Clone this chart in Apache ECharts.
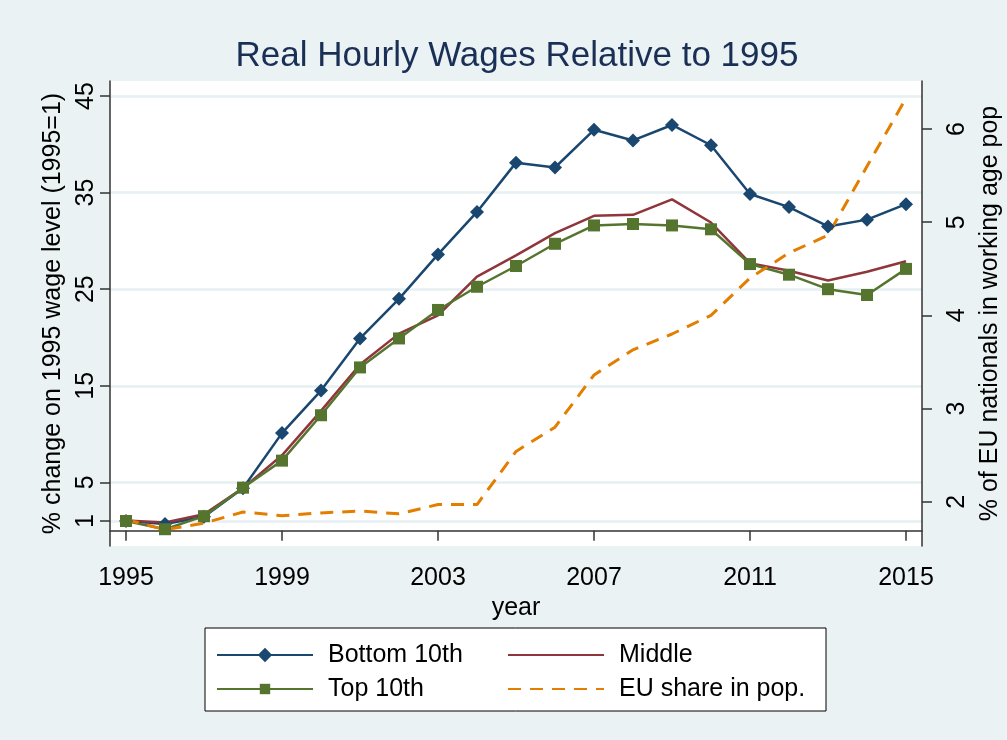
<!DOCTYPE html>
<html>
<head>
<meta charset="utf-8">
<script src="https://cdn.jsdelivr.net/npm/echarts@6/dist/echarts.min.js"></script>
<style>
  html, body { margin: 0; padding: 0; background: #eaf2f3; }
  #main { width: 1007px; height: 740px; }
</style>
</head>
<body>
<div id="main"></div>
<script>
var years = [1995, 1996, 1997, 1998, 1999, 2000, 2001, 2002, 2003, 2004, 2005,
  2006, 2007, 2008, 2009, 2010, 2011, 2012, 2013, 2014, 2015];
var bottom10 = [1.0, 0.7, 1.45, 4.4, 10.1, 14.5, 19.9, 24.0, 28.6, 33.0, 38.1,
  37.6, 41.5, 40.4, 42.0, 39.9, 34.85, 33.5, 31.5, 32.2, 33.8];
var middle = [1.05, 0.85, 1.7, 4.4, 7.8, 12.4, 17.2, 20.4, 22.3, 26.3, 28.5,
  30.8, 32.6, 32.7, 34.3, 31.9, 27.7, 26.9, 25.9, 26.8, 27.9];
var top10 = [1.0, 0.15, 1.5, 4.45, 7.25, 11.95, 16.9, 19.9, 22.85, 25.25, 27.4,
  29.7, 31.6, 31.75, 31.6, 31.2, 27.6, 26.5, 25.0, 24.4, 27.1];
var euShare = [1.81, 1.70, 1.77, 1.89, 1.85, 1.88, 1.90, 1.87, 1.97, 1.97, 2.54,
  2.80, 3.36, 3.63, 3.80, 4.00, 4.40, 4.67, 4.86, 5.60, 6.33];
var xTicks = [1995, 1999, 2003, 2007, 2011, 2015];
var leftTicks = [1, 5, 15, 25, 35, 45];
var rightTicks = [2, 3, 4, 5, 6];

(function () {
  var font = "Liberation Sans, Arial, sans-serif";
  var pairs = function (vals) {
    return years.map(function (y, i) { return [y, vals[i]]; });
  };
  var axisText = { color: "#000", fontSize: 25, fontFamily: font };
  // one legend per entry so each marker can get its own size
  var legendItem = function (name, left, rowCenter, h, hideSymbol) {
    return {
      orient: "vertical",
      left: left,
      top: rowCenter - 12.5,
      padding: 0,
      itemWidth: 96,
      itemHeight: h,
      data: [hideSymbol ? { name: name, itemStyle: { opacity: 0 } } : name],
      textStyle: { color: "#000", fontSize: 25, lineHeight: 25, fontFamily: font, padding: [0, 0, 0, 10] },
    };
  };
  var option = {
    backgroundColor: "#eaf2f3",
    animation: false,
    title: {
      text: "Real Hourly Wages Relative to 1995",
      left: 517,
      top: 39,
      textAlign: "center",
      padding: 0,
      textStyle: { color: "#1a2f55", fontSize: 35, fontWeight: "normal", fontFamily: font },
    },
    grid: {
      left: 110,
      right: 85,
      top: 81,
      bottom: 194,
      containLabel: false,
      outerBoundsMode: "none",
      show: true,
      backgroundColor: "#fff",
      borderWidth: 0,
    },
    xAxis: {
      type: "value",
      min: 1994.59,
      max: 2015.41,
      name: "year",
      nameLocation: "middle",
      nameGap: 46,
      nameTextStyle: axisText,
      axisLine: { lineStyle: { color: "#333", width: 1.5 } },
      axisTick: { customValues: xTicks, length: 10, lineStyle: { color: "#333", width: 1.5 } },
      axisLabel: {
        customValues: xTicks,
        margin: 20,
        color: "#000",
        fontSize: 25,
        fontFamily: font,
        formatter: function (v) { return String(v); },
      },
      splitLine: { show: false },
    },
    yAxis: [
      {
        type: "value",
        position: "left",
        min: -1.588,
        max: 46.553,
        name: "% change on 1995 wage level (1995=1)",
        nameLocation: "middle",
        nameRotate: 90,
        nameGap: 39,
        nameTextStyle: axisText,
        axisLine: { show: true, lineStyle: { color: "#333", width: 1.5 } },
        axisTick: { show: true, customValues: leftTicks, length: 10, lineStyle: { color: "#333", width: 1.5 } },
        axisLabel: { customValues: leftTicks, rotate: 90, margin: 11, color: "#000", fontSize: 25, fontFamily: font },
        splitLine: { show: true, lineStyle: { color: "#e6eff1", width: 2.5 } },
      },
      {
        type: "value",
        position: "right",
        min: 1.525,
        max: 6.515,
        name: "% of EU nationals in working age pop",
        nameLocation: "middle",
        nameRotate: 90,
        nameGap: 47,
        nameTextStyle: axisText,
        axisLine: { show: true, lineStyle: { color: "#333", width: 1.5 } },
        axisTick: { show: true, customValues: rightTicks, length: 10, lineStyle: { color: "#333", width: 1.5 } },
        axisLabel: { customValues: rightTicks, rotate: 90, margin: 23, color: "#000", fontSize: 25, fontFamily: font },
        splitLine: { show: false },
      },
    ],
    graphic: [
      {
        type: "rect",
        shape: { x: 205, y: 628, width: 621, height: 83 },
        style: { fill: "#fff", stroke: "#000", lineWidth: 1 },
        z: 0,
      },
    ],
    legend: [
      legendItem("Bottom 10th", 216, 655, 18, false),
      legendItem("Top 10th", 216, 689, 13, false),
      legendItem("Middle", 507, 655, 16, true),
      legendItem("EU share in pop.", 507, 689, 16, true),
    ],
    series: [
      {
        name: "Bottom 10th",
        type: "line",
        yAxisIndex: 0,
        data: pairs(bottom10),
        symbol: "diamond",
        symbolSize: 14,
        color: "#1a476f",
        lineStyle: { color: "#1a476f", width: 2.5 },
        itemStyle: { color: "#1a476f" },
      },
      {
        name: "Middle",
        type: "line",
        yAxisIndex: 0,
        data: pairs(middle),
        symbol: "none",
        color: "#90353b",
        lineStyle: { color: "#90353b", width: 2.5 },
      },
      {
        name: "Top 10th",
        type: "line",
        yAxisIndex: 0,
        data: pairs(top10),
        symbol: "rect",
        symbolSize: 12,
        color: "#55752f",
        lineStyle: { color: "#55752f", width: 2.5 },
        itemStyle: { color: "#55752f" },
      },
      {
        name: "EU share in pop.",
        type: "line",
        yAxisIndex: 1,
        data: pairs(euShare),
        symbol: "none",
        color: "#e37e00",
        lineStyle: { color: "#e37e00", width: 3, type: [13, 9] },
      },
    ],
  };
  var myChart = echarts.init(document.getElementById("main"));
  myChart.setOption(option);
})();
</script>
</body>
</html>
